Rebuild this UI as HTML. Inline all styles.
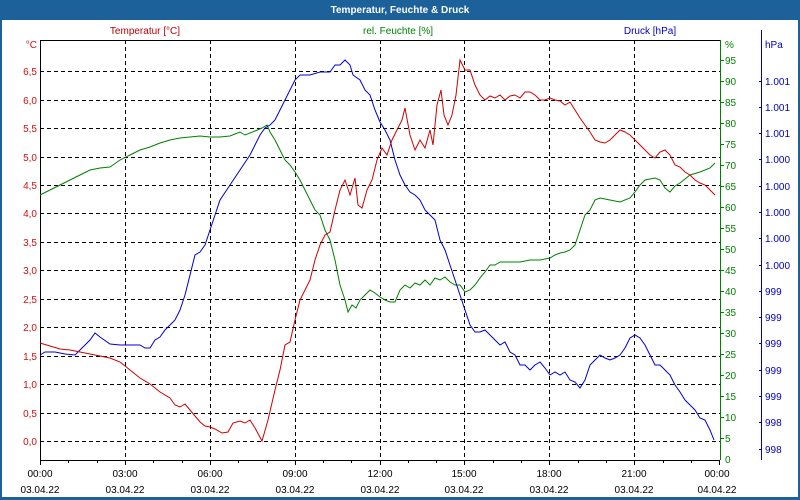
<!DOCTYPE html>
<html><head><meta charset="utf-8"><style>
html,body{margin:0;padding:0;background:#fff}
svg{display:block;font-family:"Liberation Sans",sans-serif}
</style></head><body>
<svg width="800" height="500" viewBox="0 0 800 500" xmlns="http://www.w3.org/2000/svg">
<rect x="0" y="0" width="800" height="500" fill="#1c6199"/>
<rect x="2" y="20" width="796" height="477" fill="#fff"/>
<text x="400" y="13" fill="#fff" font-size="10" font-weight="bold" text-anchor="middle">Temperatur, Feuchte &amp; Druck</text>
<text x="145" y="34" fill="#c00000" font-size="10" text-anchor="middle">Temperatur [°C]</text>
<text x="398" y="34" fill="#008000" font-size="10" text-anchor="middle">rel. Feuchte [%]</text>
<text x="650" y="34" fill="#0000c0" font-size="10" text-anchor="middle">Druck [hPa]</text>
<g stroke="#000" stroke-dasharray="4,3" stroke-width="1">
<line x1="40" x2="720" y1="71.5" y2="71.5"/><line x1="40" x2="720" y1="100.5" y2="100.5"/><line x1="40" x2="720" y1="128.5" y2="128.5"/><line x1="40" x2="720" y1="157.5" y2="157.5"/><line x1="40" x2="720" y1="185.5" y2="185.5"/><line x1="40" x2="720" y1="213.5" y2="213.5"/><line x1="40" x2="720" y1="242.5" y2="242.5"/><line x1="40" x2="720" y1="270.5" y2="270.5"/><line x1="40" x2="720" y1="299.5" y2="299.5"/><line x1="40" x2="720" y1="327.5" y2="327.5"/><line x1="40" x2="720" y1="356.5" y2="356.5"/><line x1="40" x2="720" y1="384.5" y2="384.5"/><line x1="40" x2="720" y1="413.5" y2="413.5"/><line x1="40" x2="720" y1="441.5" y2="441.5"/>
<line x1="125.5" x2="125.5" y1="40" y2="460"/><line x1="210.5" x2="210.5" y1="40" y2="460"/><line x1="295.5" x2="295.5" y1="40" y2="460"/><line x1="380.5" x2="380.5" y1="40" y2="460"/><line x1="464.5" x2="464.5" y1="40" y2="460"/><line x1="549.5" x2="549.5" y1="40" y2="460"/><line x1="634.5" x2="634.5" y1="40" y2="460"/>
</g>
<line x1="40" x2="720" y1="40.5" y2="40.5" stroke="#000"/>
<line x1="40.5" x2="40.5" y1="40" y2="460" stroke="#000"/>
<line x1="40" x2="720" y1="460.5" y2="460.5" stroke="#000"/>
<line x1="720.5" x2="720.5" y1="40" y2="460" stroke="#008000"/>
<line x1="761.5" x2="761.5" y1="30" y2="460" stroke="#0000c0"/>
<g stroke="#000">
<line x1="40.5" x2="40.5" y1="460" y2="465"/><line x1="68.5" x2="68.5" y1="460" y2="463"/><line x1="97.5" x2="97.5" y1="460" y2="463"/><line x1="125.5" x2="125.5" y1="460" y2="465"/><line x1="153.5" x2="153.5" y1="460" y2="463"/><line x1="182.5" x2="182.5" y1="460" y2="463"/><line x1="210.5" x2="210.5" y1="460" y2="465"/><line x1="238.5" x2="238.5" y1="460" y2="463"/><line x1="267.5" x2="267.5" y1="460" y2="463"/><line x1="295.5" x2="295.5" y1="460" y2="465"/><line x1="323.5" x2="323.5" y1="460" y2="463"/><line x1="351.5" x2="351.5" y1="460" y2="463"/><line x1="380.5" x2="380.5" y1="460" y2="465"/><line x1="408.5" x2="408.5" y1="460" y2="463"/><line x1="436.5" x2="436.5" y1="460" y2="463"/><line x1="464.5" x2="464.5" y1="460" y2="465"/><line x1="493.5" x2="493.5" y1="460" y2="463"/><line x1="521.5" x2="521.5" y1="460" y2="463"/><line x1="549.5" x2="549.5" y1="460" y2="465"/><line x1="578.5" x2="578.5" y1="460" y2="463"/><line x1="606.5" x2="606.5" y1="460" y2="463"/><line x1="634.5" x2="634.5" y1="460" y2="465"/><line x1="663.5" x2="663.5" y1="460" y2="463"/><line x1="691.5" x2="691.5" y1="460" y2="463"/><line x1="719.5" x2="719.5" y1="460" y2="465"/>
</g>
<g font-size="10" fill="#000" text-anchor="middle">
<text x="40" y="477">00:00</text><text x="40" y="493">03.04.22</text>
<text x="125" y="477">03:00</text><text x="125" y="493">03.04.22</text>
<text x="210" y="477">06:00</text><text x="210" y="493">03.04.22</text>
<text x="295" y="477">09:00</text><text x="295" y="493">03.04.22</text>
<text x="380" y="477">12:00</text><text x="380" y="493">03.04.22</text>
<text x="464" y="477">15:00</text><text x="464" y="493">03.04.22</text>
<text x="549" y="477">18:00</text><text x="549" y="493">03.04.22</text>
<text x="634" y="477">21:00</text><text x="634" y="493">03.04.22</text>
<text x="717" y="477">00:00</text><text x="717" y="493">04.04.22</text>
</g>
<g font-size="10" fill="#d01010" text-anchor="end">
<text x="37" y="48">°C</text>
<text x="37" y="75">6,5</text><text x="37" y="104">6,0</text><text x="37" y="132">5,5</text><text x="37" y="161">5,0</text><text x="37" y="189">4,5</text><text x="37" y="217">4,0</text><text x="37" y="246">3,5</text><text x="37" y="274">3,0</text><text x="37" y="303">2,5</text><text x="37" y="331">2,0</text><text x="37" y="360">1,5</text><text x="37" y="388">1,0</text><text x="37" y="417">0,5</text><text x="37" y="445">0,0</text>
</g>
<g stroke="#008000">
<line x1="720" x2="724" y1="60.5" y2="60.5"/><line x1="720" x2="724" y1="81.5" y2="81.5"/><line x1="720" x2="724" y1="102.5" y2="102.5"/><line x1="720" x2="724" y1="123.5" y2="123.5"/><line x1="720" x2="724" y1="144.5" y2="144.5"/><line x1="720" x2="724" y1="165.5" y2="165.5"/><line x1="720" x2="724" y1="186.5" y2="186.5"/><line x1="720" x2="724" y1="207.5" y2="207.5"/><line x1="720" x2="724" y1="228.5" y2="228.5"/><line x1="720" x2="724" y1="249.5" y2="249.5"/><line x1="720" x2="724" y1="270.5" y2="270.5"/><line x1="720" x2="724" y1="291.5" y2="291.5"/><line x1="720" x2="724" y1="312.5" y2="312.5"/><line x1="720" x2="724" y1="333.5" y2="333.5"/><line x1="720" x2="724" y1="354.5" y2="354.5"/><line x1="720" x2="724" y1="375.5" y2="375.5"/><line x1="720" x2="724" y1="396.5" y2="396.5"/><line x1="720" x2="724" y1="417.5" y2="417.5"/><line x1="720" x2="724" y1="438.5" y2="438.5"/>
</g>
<g font-size="10" fill="#008000">
<text x="725" y="48">%</text>
<text x="725" y="64">95</text><text x="725" y="85">90</text><text x="725" y="106">85</text><text x="725" y="127">80</text><text x="725" y="148">75</text><text x="725" y="169">70</text><text x="725" y="190">65</text><text x="725" y="211">60</text><text x="725" y="232">55</text><text x="725" y="253">50</text><text x="725" y="274">45</text><text x="725" y="295">40</text><text x="725" y="316">35</text><text x="725" y="337">30</text><text x="725" y="358">25</text><text x="725" y="379">20</text><text x="725" y="400">15</text><text x="725" y="421">10</text><text x="725" y="442">5</text><text x="725" y="463">0</text>
</g>
<g stroke="#0000c0">
<line x1="759" x2="762" y1="81.5" y2="81.5"/><line x1="759" x2="762" y1="107.5" y2="107.5"/><line x1="759" x2="762" y1="133.5" y2="133.5"/><line x1="759" x2="762" y1="159.5" y2="159.5"/><line x1="759" x2="762" y1="186.5" y2="186.5"/><line x1="759" x2="762" y1="212.5" y2="212.5"/><line x1="759" x2="762" y1="238.5" y2="238.5"/><line x1="759" x2="762" y1="265.5" y2="265.5"/><line x1="759" x2="762" y1="291.5" y2="291.5"/><line x1="759" x2="762" y1="317.5" y2="317.5"/><line x1="759" x2="762" y1="343.5" y2="343.5"/><line x1="759" x2="762" y1="370.5" y2="370.5"/><line x1="759" x2="762" y1="396.5" y2="396.5"/><line x1="759" x2="762" y1="422.5" y2="422.5"/><line x1="759" x2="762" y1="449.5" y2="449.5"/>
</g>
<g font-size="10" fill="#0000c0">
<text x="765" y="48">hPa</text>
<text x="765" y="85">1.001</text><text x="765" y="111">1.001</text><text x="765" y="137">1.001</text><text x="765" y="163">1.000</text><text x="765" y="190">1.000</text><text x="765" y="216">1.000</text><text x="765" y="242">1.000</text><text x="765" y="269">1.000</text><text x="765" y="295">999</text><text x="765" y="321">999</text><text x="765" y="347">999</text><text x="765" y="374">999</text><text x="765" y="400">999</text><text x="765" y="426">998</text><text x="765" y="453">998</text>
</g>
<polyline fill="none" stroke="#008000" stroke-width="1" points="40,195 50,190 60,185 70,180 80,175 90,170 100,168 110,167 120,160 130,155 140,150 150,147 160,143 170,140 180,138 190,137 200,136 210,137 220,137 230,136 235,134 240,132 245,135 255,131 262,128 267,125 270,132 275,140 280,150 285,160 290,165 295,172 300,180 305,190 310,200 315,210 320,215 325,230 330,240 335,260 340,285 345,300 348,312 352,305 356,308 360,300 365,295 370,290 375,293 380,297 385,300 390,302 395,302 400,290 405,285 410,288 415,283 420,285 425,280 430,285 435,278 440,280 445,277 450,282 455,285 460,285 465,292 470,290 475,285 480,278 485,272 490,265 495,265 500,262 510,262 520,262 530,260 540,260 550,258 555,255 560,253 565,252 570,250 575,245 580,230 585,215 590,210 595,200 600,198 610,200 620,202 630,198 635,192 640,185 645,180 655,178 660,180 665,188 670,192 675,186 680,183 690,175 700,172 710,168 715,163"/>
<polyline fill="none" stroke="#0000d0" stroke-width="1" points="40,355 45,352 55,352 65,354 75,355 85,345 90,340 95,333 100,337 110,344 120,345 130,345 140,345 145,348 150,348 155,340 160,337 165,330 170,325 175,320 180,310 185,295 190,275 195,255 200,252 205,245 210,230 215,215 220,200 230,185 240,170 250,155 255,145 260,135 265,128 270,125 275,120 280,110 285,100 290,90 295,80 300,75 310,75 320,72 330,72 335,65 340,65 345,60 350,65 353,75 360,80 365,90 370,95 375,110 380,122 385,130 390,140 395,160 400,175 405,185 410,192 415,195 420,200 425,210 430,215 435,220 440,240 445,250 450,265 455,280 460,295 465,310 470,325 475,332 480,332 485,330 490,335 495,340 500,345 505,342 510,352 515,355 520,365 525,365 530,370 535,365 540,362 545,368 550,375 555,372 560,375 565,372 570,380 575,382 580,388 585,380 590,365 595,360 600,355 605,358 610,360 615,358 620,355 625,348 630,338 635,335 640,338 645,345 650,355 655,365 660,365 665,370 670,375 675,385 680,392 685,400 690,405 695,410 700,418 705,420 710,430 714,440"/>
<polyline fill="none" stroke="#d00000" stroke-width="1" points="40,343 50,346 60,349 70,350 80,352 90,354 100,356 110,358 120,362 130,370 140,378 150,384 160,392 170,398 175,405 180,407 185,404 190,410 195,416 200,422 205,426 210,427 215,429 222,433 228,432 233,423 240,421 245,423 250,420 255,428 262,441 268,420 275,390 280,370 285,345 290,342 295,320 300,300 305,290 310,280 315,260 320,245 325,235 330,232 335,210 340,190 345,180 350,195 355,178 358,205 362,208 367,190 372,180 377,160 382,148 387,155 392,140 397,130 402,120 405,108 410,135 415,150 420,140 425,148 430,130 433,145 437,105 441,90 444,115 448,125 452,115 456,95 460,60 465,70 470,70 475,85 480,95 485,100 490,96 495,98 500,95 505,100 510,96 515,95 520,98 525,92 530,92 535,95 540,100 545,100 550,98 555,100 560,101 565,105 570,102 575,110 580,118 585,125 590,132 595,140 600,142 605,143 610,140 615,135 620,130 625,132 630,135 635,140 640,145 645,150 650,155 655,158 660,152 665,150 670,155 675,165 680,167 685,172 690,175 695,180 700,183 705,185 710,190 715,195"/>
</svg>
</body></html>
